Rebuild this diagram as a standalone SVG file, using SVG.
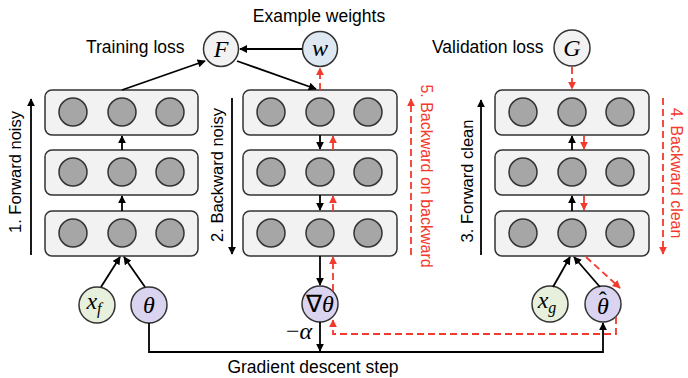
<svg xmlns="http://www.w3.org/2000/svg" width="688" height="378" viewBox="0 0 688 378">
<defs>
<marker id="ab" viewBox="0 0 10 10" refX="9" refY="5" markerWidth="4.5" markerHeight="4.5" orient="auto" markerUnits="strokeWidth"><path d="M0,0 L10,5 L0,10 z" fill="#000"/></marker>
<marker id="ar" viewBox="0 0 10 10" refX="9" refY="5" markerWidth="4.5" markerHeight="4.5" orient="auto" markerUnits="strokeWidth"><path d="M0,0 L10,5 L0,10 z" fill="#f23a2e"/></marker>
</defs>
<style>
.box{fill:#f2f2f2;stroke:#333;stroke-width:1.5}
.u{fill:#a6a6a6;stroke:#333;stroke-width:1.5}
.nd{stroke:#333;stroke-width:1.5}
.ba{fill:none;stroke:#000;stroke-width:1.8;marker-end:url(#ab)}
.ra{fill:none;stroke:#f23a2e;stroke-width:1.8;stroke-dasharray:7 4;marker-end:url(#ar)}
.t{font-family:"Liberation Sans",Arial,sans-serif;font-size:17.5px;fill:#000}
.rt{font-family:"Liberation Sans",Arial,sans-serif;font-size:16.5px;fill:#000}
.rr{font-family:"Liberation Sans",Arial,sans-serif;font-size:16px;fill:#f23a2e}
.m{font-family:"Liberation Serif","Times New Roman",serif;font-size:24px;font-style:italic;fill:#000}
</style>

<g id="layer-left-1"><rect class="box" x="45" y="90" width="153" height="45" rx="7"/><circle class="u" cx="73" cy="112" r="14"/><circle class="u" cx="122" cy="112" r="14"/><circle class="u" cx="170" cy="112" r="14"/></g>
<g id="layer-left-2"><rect class="box" x="45" y="150" width="153" height="45" rx="7"/><circle class="u" cx="73" cy="172" r="14"/><circle class="u" cx="122" cy="172" r="14"/><circle class="u" cx="170" cy="172" r="14"/></g>
<g id="layer-left-3"><rect class="box" x="45" y="211" width="153" height="45" rx="7"/><circle class="u" cx="73" cy="233" r="14"/><circle class="u" cx="122" cy="233" r="14"/><circle class="u" cx="170" cy="233" r="14"/></g>

<g id="layer-mid-1"><rect class="box" x="243" y="90" width="154" height="45" rx="7"/><circle class="u" cx="271" cy="112" r="14"/><circle class="u" cx="320" cy="112" r="14"/><circle class="u" cx="368" cy="112" r="14"/></g>
<g id="layer-mid-2"><rect class="box" x="243" y="150" width="154" height="45" rx="7"/><circle class="u" cx="271" cy="172" r="14"/><circle class="u" cx="320" cy="172" r="14"/><circle class="u" cx="368" cy="172" r="14"/></g>
<g id="layer-mid-3"><rect class="box" x="243" y="211" width="154" height="45" rx="7"/><circle class="u" cx="271" cy="233" r="14"/><circle class="u" cx="320" cy="233" r="14"/><circle class="u" cx="368" cy="233" r="14"/></g>

<g id="layer-right-1"><rect class="box" x="495" y="90" width="154" height="45" rx="7"/><circle class="u" cx="523" cy="112" r="14"/><circle class="u" cx="572" cy="112" r="14"/><circle class="u" cx="620" cy="112" r="14"/></g>
<g id="layer-right-2"><rect class="box" x="495" y="150" width="154" height="45" rx="7"/><circle class="u" cx="523" cy="172" r="14"/><circle class="u" cx="572" cy="172" r="14"/><circle class="u" cx="620" cy="172" r="14"/></g>
<g id="layer-right-3"><rect class="box" x="495" y="211" width="154" height="45" rx="7"/><circle class="u" cx="523" cy="233" r="14"/><circle class="u" cx="572" cy="233" r="14"/><circle class="u" cx="620" cy="233" r="14"/></g>

<g id="node-F"><circle class="nd" cx="221" cy="49" r="17.5" fill="#f2f2f2"/><text class="m" x="221" y="57" text-anchor="middle">F</text></g>
<g id="node-w"><circle class="nd" cx="320" cy="49" r="17.5" fill="#dde8f3"/><text class="m" x="320" y="56" text-anchor="middle">w</text></g>
<g id="node-G"><circle class="nd" cx="572" cy="48" r="18" fill="#f2f2f2"/><text class="m" x="572" y="56" text-anchor="middle">G</text></g>
<g id="node-xf"><circle class="nd" cx="97" cy="305" r="18" fill="#e6f0dc"/><text class="m" x="94" y="309" text-anchor="middle">x<tspan font-size="16" dy="5">f</tspan></text></g>
<g id="node-theta"><circle class="nd" cx="149" cy="305" r="18" fill="#dbd4f1"/><text class="m" x="149" y="313" text-anchor="middle">θ</text></g>
<g id="node-grad"><circle class="nd" cx="320" cy="304" r="18" fill="#dbd4f1"/><text class="m" x="320" y="312" text-anchor="middle"><tspan font-style="normal">∇</tspan>θ</text></g>
<g id="node-xg"><circle class="nd" cx="550" cy="304" r="18" fill="#e6f0dc"/><text class="m" x="547" y="308" text-anchor="middle">x<tspan font-size="16" dy="5">g</tspan></text></g>
<g id="node-thetahat"><circle class="nd" cx="603" cy="304" r="18" fill="#dbd4f1"/><text class="m" x="597" y="314">θ<tspan font-style="normal" dx="-10" dy="-6">ˆ</tspan></text></g>

<g id="connectors">
<line class="ba" x1="122" y1="150" x2="122" y2="136"/>
<line class="ba" x1="122" y1="211" x2="122" y2="196"/>
<line class="ba" x1="122" y1="90" x2="205" y2="61"/>
<line class="ba" x1="302" y1="49" x2="240" y2="49"/>
<line class="ba" x1="237" y1="61" x2="316" y2="89"/>
<line class="ra" x1="320" y1="90" x2="320" y2="68"/>
<line class="ba" x1="320" y1="135" x2="320" y2="149"/>
<line class="ba" x1="320" y1="195" x2="320" y2="210"/>
<line class="ra" x1="333" y1="150" x2="333" y2="136"/>
<line class="ra" x1="333" y1="211" x2="333" y2="196"/>
<line class="ra" x1="572" y1="67" x2="572" y2="89"/>
<line class="ba" x1="572" y1="150" x2="572" y2="136"/>
<line class="ba" x1="572" y1="211" x2="572" y2="196"/>
<line class="ra" x1="584" y1="136" x2="584" y2="149"/>
<line class="ra" x1="584" y1="196" x2="584" y2="210"/>
<line class="ba" x1="101" y1="287" x2="120" y2="257"/>
<line class="ba" x1="145" y1="287" x2="124" y2="257"/>
<line class="ba" x1="320" y1="256" x2="320" y2="285"/>
<line class="ra" x1="333" y1="291" x2="333" y2="257"/>
<line class="ba" x1="553" y1="287" x2="570" y2="257"/>
<line class="ba" x1="600" y1="287" x2="574" y2="257"/>
<line class="ra" x1="586" y1="257" x2="620" y2="288"/>
<polyline class="ba" points="149,323 149,352 603,352 603,323"/>
<line class="ba" x1="320" y1="322" x2="320" y2="351"/>
<polyline class="ra" points="616,317 616,334 333,334 333,320"/>
<line class="ba" x1="31" y1="255" x2="31" y2="99"/>
<line class="ba" x1="232" y1="98" x2="232" y2="254"/>
<line class="ba" x1="481" y1="255" x2="481" y2="100"/>
<line class="ra" x1="411" y1="255" x2="411" y2="99"/>
<line class="ra" x1="663" y1="98" x2="663" y2="254"/>
</g>

<g id="labels">
<text class="t" x="86" y="53">Training loss</text>
<text class="t" x="319" y="22" text-anchor="middle">Example weights</text>
<text class="t" x="432" y="53">Validation loss</text>
<text class="t" x="313" y="373" text-anchor="middle">Gradient descent step</text>
<text class="m" x="299" y="339" text-anchor="middle" font-size="26"><tspan font-style="normal">−</tspan>α</text>
<text class="rt" transform="translate(15,172) rotate(-90)" text-anchor="middle" dy="6">1. Forward noisy</text>
<text class="rt" transform="translate(217,175) rotate(-90)" text-anchor="middle" dy="6">2. Backward noisy</text>
<text class="rt" transform="translate(467,181) rotate(-90)" text-anchor="middle" dy="6">3. Forward clean</text>
<text class="rr" transform="translate(427,176) rotate(90)" text-anchor="middle" dy="6">5. Backward on backward</text>
<text class="rr" transform="translate(677,173) rotate(90)" text-anchor="middle" dy="6">4. Backward clean</text>
</g>
</svg>
